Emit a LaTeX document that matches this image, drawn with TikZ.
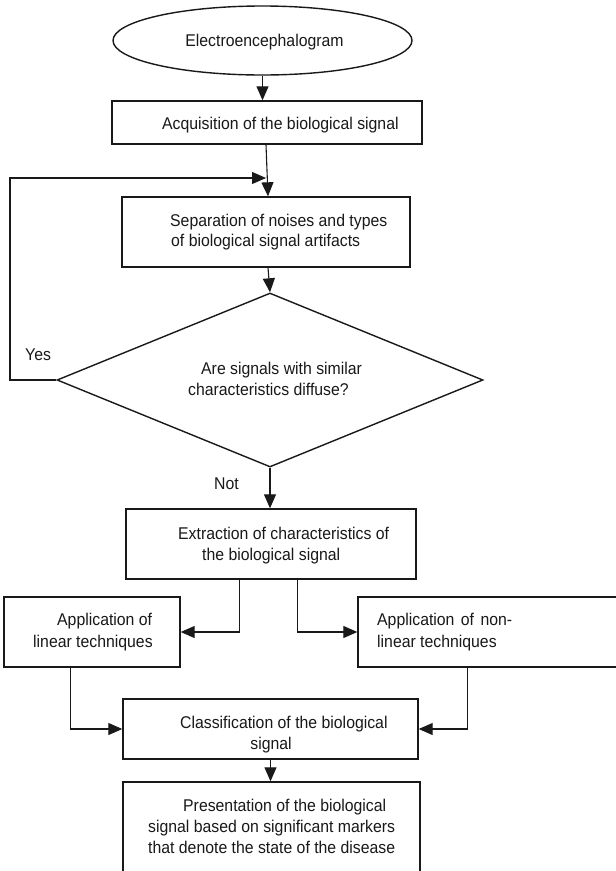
\documentclass[tikz,border=0pt]{standalone}
\usepackage{fontspec}
\setmainfont{Liberation Sans}[FakeStretch=0.93]
\usetikzlibrary{shapes.geometric,arrows.meta,calc}
\tikzset{
  boxnode/.style={draw=black!90, line width=1.4pt, rectangle, inner sep=0pt},
  txt/.style={anchor=base west, inner sep=0pt, font=\fontsize{17}{21}\selectfont, text=black!90},
  txtc/.style={anchor=base, inner sep=0pt, font=\fontsize{17}{21}\selectfont, text=black!90},
  conn/.style={draw=black!90, line width=1.1pt, -{Triangle[length=14pt,width=12pt]}},
  plainconn/.style={draw=black!90, line width=1.1pt}
}
\begin{document}
\begin{tikzpicture}[x=1pt,y=-1pt]
\useasboundingbox (0,0) rectangle (616,871);
\clip (0,0) rectangle (616,871);
\fill[white] (0,0) rectangle (616,871);

% shapes
\node[draw=black!90, line width=1.4pt, ellipse, inner sep=0pt, minimum width=299pt, minimum height=69pt] (E) at (262.5,40.5) {};
\node[boxnode, minimum width=310pt, minimum height=43pt] (B1) at (267,122.5) {};
\node[boxnode, minimum width=288pt, minimum height=70pt] (B2) at (266,232) {};
\node[draw=black!90, line width=1.4pt, diamond, inner sep=0pt, minimum width=426pt, minimum height=174pt] (D) at (270,380) {};
\node[boxnode, minimum width=290pt, minimum height=70pt] (B3) at (271,544) {};
\node[boxnode, minimum width=176pt, minimum height=70pt] (L) at (92,632) {};
\node[boxnode, minimum width=272pt, minimum height=70pt] (R) at (494,632) {};
\node[boxnode, minimum width=295pt, minimum height=60pt] (C) at (270.5,729) {};
\node[boxnode, minimum width=297pt, minimum height=110pt] (P) at (271.5,837) {};

% texts
\node[txtc] (tE) at (264.5,46) {Electroencephalogram};
\node[txt] (t1) at (162,129) {Acquisition of the biological signal};
\node[txt] (t2a) at (170,226) {Separation of noises and types};
\node[txt] (t2b) at (171,246) {of biological signal artifacts};
\node[txt] (tDa) at (201,374) {Are signals with similar};
\node[txt] (tDb) at (188,395) {characteristics diffuse?};
\node[txt] (tYes) at (25,360) {Yes};
\node[txt] (tNot) at (214,489) {Not};
\node[txt] (t3a) at (178,539) {Extraction of characteristics of};
\node[txt] (t3b) at (202,560) {the biological signal};
\node[txt] (tLa) at (57,625) {Application of};
\node[txt] (tLb) at (33,647) {linear techniques};
\node[txt] (tRa) at (377,625) {\makebox[135pt][s]{Application of non-}};
\node[txt] (tRb) at (377,647) {linear techniques};
\node[txt] (tCa) at (180,728) {Classification of the biological};
\node[txtc] (tCb) at (271,749) {signal};
\node[txt] (tPa) at (183,811) {Presentation of the biological};
\node[txt] (tPb) at (148,832) {signal based on significant markers};
\node[txt] (tPc) at (148,853) {that denote the state of the disease};

% connectors
\coordinate (fb) at (266,178);
\draw[conn] (E.south) -- (E.south |- B1.north);
\draw[conn] ($(B1.south)+(-1,0)$) -- ($(B2.north)+(2,0)$);
\draw[conn] (D.west) -- (10,380) -- (10,178) -- (fb);
\draw[conn] ($(B2.south)+(2,0)$) -- (D.north);
\draw[conn] (D.south) -- (D.south |- B3.north);
\draw[conn] ($(B3.south west)+(114,0)$) |- (L.east);
\draw[conn] ($(B3.south west)+(172,0)$) |- (R.west);
\draw[conn] ($(L.south west)+(67,0)$) |- (C.west);
\draw[conn] ($(R.south west)+(110,0)$) |- (C.east);
\draw[conn] (C.south) -- (C.south |- P.north);
\end{tikzpicture}
\end{document}
